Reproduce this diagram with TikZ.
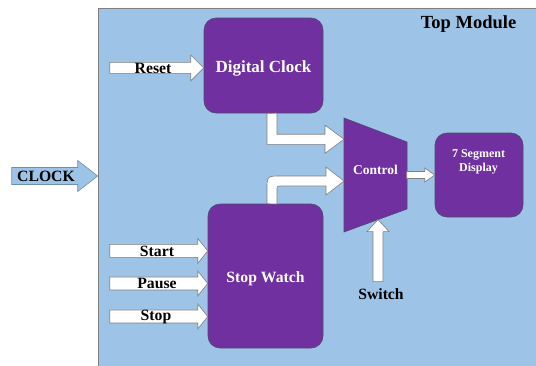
\documentclass[tikz,border=0pt]{standalone}
\usepackage{fontspec}
\setmainfont{Liberation Serif}
\usetikzlibrary{calc}
\definecolor{bgblue}{HTML}{9DC3E6}
\definecolor{modpurple}{HTML}{7030A0}
\definecolor{edgegray}{HTML}{7F7F7F}
\definecolor{boxedge}{HTML}{4E4A6E}
\definecolor{clkedge}{HTML}{6F8FAF}

% block arrow pointing right: [style]{tip}{length}{shaft half}{head half}{head length}
\newcommand\barrow[6][blk]{%
  \draw[#1] (#2) -- ++(-#6,-#5) -- ++(0,{#5-#4}) -- ++({#6-#3},0)
    -- ++(0,{2*#4}) -- ++({#3-#6},0) -- ++(0,{#5-#4}) -- cycle;}

\begin{document}
\begin{tikzpicture}[x=1pt,y=-1pt,
  box/.style={draw=boxedge, line width=0.6pt, fill=modpurple, rounded corners=12pt, inner sep=0pt},
  blk/.style={draw=edgegray, line width=0.6pt, fill=white, line join=miter},
  clkarrow/.style={draw=clkedge, line width=0.6pt, fill=bgblue, line join=miter},
  wt/.style={text=white, anchor=base, inner sep=0pt, font=\bfseries\fontsize{15.7}{18}\selectfont},
  bk/.style={text=black, anchor=base, inner sep=0pt, font=\bfseries\fontsize{15.7}{18}\selectfont}]
\useasboundingbox (0,0) rectangle (536,365);
\fill[white] (0,0) rectangle (536,365);

% top-level module area
\node[draw=edgegray, line width=0.6pt, fill=bgblue, minimum width=440pt, minimum height=359pt,
      inner sep=0pt] (top) at (318,187.5) {};
\node[bk, font=\bfseries\fontsize{18.5}{21}\selectfont] (title) at (468.5,28) {Top Module};

% sub-modules
\node[box, minimum width=119pt, minimum height=95pt] (dc) at (263.5,65.5) {};
\node[wt, font=\bfseries\fontsize{17}{20}\selectfont] (dclbl) at (263.5,72) {Digital Clock};
\node[box, minimum width=115pt, minimum height=144pt] (sw) at (265.5,276) {};
\node[wt] (swlbl) at (265.5,282) {Stop Watch};
\node[box, minimum width=88pt, minimum height=84pt] (seg) at (479,175) {};
\node[wt, font=\bfseries\fontsize{12}{14.5}\selectfont, align=center] (seglbl) at (478.5,171.7)
  {7 Segment\\Display};

% control multiplexer
\coordinate (c1) at (344,118);
\coordinate (c2) at (407,142);
\coordinate (c3) at (407,209);
\coordinate (c4) at (344,232);
\draw[draw=boxedge, line width=0.6pt, fill=modpurple, line join=miter] (c1) -- (c2) -- (c3) -- (c4) -- cycle;
\node[wt, font=\bfseries\fontsize{13.5}{16}\selectfont] (ctl) at (375.5,174) {Control};
\coordinate (inA) at ($(c1)!0.186!(c4)$);
\coordinate (inB) at ($(c1)!0.553!(c4)$);
\coordinate (inS) at ($(c4)!0.54!(c3)$);

% external clock input
\coordinate (clk) at (47,176);
\barrow[clkarrow]{clk -| top.west}{86}{8.5}{15.5}{20}
\node[bk] (clklbl) at (46,181) {CLOCK};

% inputs: arrow drawn first, its label on top
\node[bk] (reset) at (153,73) {\phantom{Reset}};
\barrow{reset.center -| dc.west}{94}{5.5}{13}{13}
\node[bk] (resetlbl) at (reset.base) {Reset};

\node[bk] (start) at (157,256) {\phantom{Start}};
\barrow{start.center -| sw.west}{98}{6.5}{12.5}{10}
\node[bk] (startlbl) at (start.base) {Start};

\node[bk] (pause) at (157,288.5) {\phantom{Pause}};
\barrow{pause.center -| sw.west}{98}{6.5}{12.5}{10}
\node[bk] (pauselbl) at (pause.base) {Pause};

\node[bk] (stop) at (156,320) {\phantom{Stop}};
\barrow{stop.center -| sw.west}{98}{6.5}{12.5}{10}
\node[bk] (stoplbl) at (stop.base) {Stop};

% clock output into control
\draw[blk] ($(dc.south)+(3.5,0)$) -- ++(0,31) -- ++(58,0) -- ++(0,9) -- (inA)
  -- ++(-19,-14) -- ++(0,9) -- ++(-48,0) -- ++(0,-21) -- cycle;

% stopwatch output into control
\draw[blk] ($(sw.north)+(1.5,0)$) -- (267,190) .. controls (267,176) .. (281,176)
  -- (326,176) -- (326,167) -- (inB) -- (326,195) -- (326,186) -- (281,186)
  .. controls (277,186) .. (277,190) -- (277,204) -- cycle;

% control output to display
\barrow{seg.west}{28}{3.5}{7}{10}

% switch input from below
\node[bk] (swt) at (381,299.3) {Switch};
\draw[blk] (inS) -- ++(-11,12) -- ++(6,0) -- ++(0,50) -- ++(10,0) -- ++(0,-50) -- ++(6,0) -- cycle;
\end{tikzpicture}
\end{document}
